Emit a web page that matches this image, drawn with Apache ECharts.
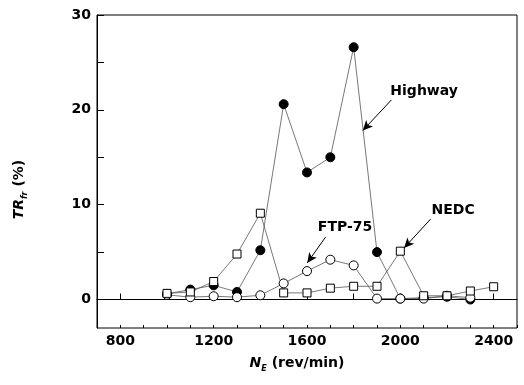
<!DOCTYPE html>
<html>
<head>
<meta charset="utf-8">
<script src="https://cdn.jsdelivr.net/npm/echarts@6/dist/echarts.min.js"></script>
<style>
  html, body { margin: 0; padding: 0; background: #fff; }
  #chart { width: 524px; height: 385px; }
</style>
</head>
<body>
<div id="chart"></div>
<script>
// engine speed (rev/min)
var rpm = [1000, 1100, 1200, 1300, 1400, 1500, 1600, 1700, 1800, 1900, 2000, 2100, 2200, 2300, 2400];
// TR_fr (%) per driving cycle
var highway = [0.6, 1.05, 1.5, 0.8, 5.2, 20.6, 13.4, 15.0, 26.6, 5.0, 0.1, 0.2, 0.3, 0.0, null];
var ftp75   = [0.5, 0.25, 0.35, 0.25, 0.45, 1.7, 3.0, 4.2, 3.6, 0.1, 0.1, 0.1, 0.4, 0.2, null];
var nedc    = [0.65, 0.8, 1.9, 4.8, 9.1, 0.7, 0.7, 1.2, 1.4, 1.4, 5.1, 0.4, 0.4, 0.9, 1.35];

var xLabels = [800, 1200, 1600, 2000, 2400];
var xTicks = [800, 1000, 1200, 1400, 1600, 1800, 2000, 2200, 2400];
var yLabels = [0, 10, 20, 30];
var yTicks = [0, 5, 10, 15, 20, 25, 30];

var font = 'DejaVu Sans';

function pairs(vals) {
  var out = [];
  for (var i = 0; i < rpm.length; i++) {
    if (vals[i] != null) out.push([rpm[i], vals[i]]);
  }
  return out;
}

function annot(text, x, y) {
  return {
    name: text, coord: [x, y], symbol: 'circle', symbolSize: 1,
    itemStyle: { color: 'rgba(0,0,0,0)', borderWidth: 0 },
    label: { show: true, formatter: text, position: 'inside', color: '#000',
             fontFamily: font, fontWeight: 'bold', fontSize: 14 }
  };
}

function plain(v) { return String(v); }

var lineStyle = { color: '#555', width: 0.8 };
var richSub = {
  i: { fontStyle: 'italic', fontFamily: font, fontWeight: 'bold', fontSize: 14, color: '#000' },
  s: { fontStyle: 'italic', fontFamily: font, fontWeight: 'bold', fontSize: 8, color: '#000', verticalAlign: 'bottom' }
};

var chart = echarts.init(document.getElementById('chart'));
chart.setOption({
  animation: false,
  grid: { left: 97, top: 15, right: 7, bottom: 57, show: true, borderColor: '#000', borderWidth: 1 },
  xAxis: [{
    type: 'value', min: 700, max: 2500,
    axisLine: { lineStyle: { color: '#000', width: 1 } },
    axisTick: { inside: true, length: 6, customValues: xTicks, lineStyle: { color: '#000' } },
    axisLabel: { customValues: xLabels, formatter: plain, color: '#000', fontFamily: font, fontWeight: 'bold', fontSize: 14, margin: 6 },
    splitLine: { show: false },
    name: '{i|N}{s|E} (rev/min)', nameLocation: 'middle', nameGap: 22,
    nameTextStyle: {
      color: '#000', fontFamily: font, fontWeight: 'bold', fontSize: 14, lineHeight: 20,
      padding: [0, 20, 0, 0], rich: richSub
    }
  }, {
    type: 'value', min: 700, max: 2500, interval: 100, position: 'bottom',
    axisLine: { show: false },
    axisTick: { inside: true, length: 3, lineStyle: { color: '#000' } },
    axisLabel: { show: false },
    splitLine: { show: false }
  }],
  yAxis: {
    type: 'value', min: -3, max: 30,
    axisLine: { show: true, lineStyle: { color: '#000', width: 1 } },
    axisTick: { show: true, inside: true, length: 7, customValues: yTicks, lineStyle: { color: '#000' } },
    axisLabel: { customValues: yLabels, formatter: plain, color: '#000', fontFamily: font, fontWeight: 'bold', fontSize: 14, margin: 6 },
    splitLine: { show: false },
    name: '{i|TR}{s|fr} (%)', nameLocation: 'middle', nameGap: 68, nameRotate: 90,
    nameTextStyle: {
      color: '#000', fontFamily: font, fontWeight: 'bold', fontSize: 14, lineHeight: 20,
      padding: [0, 36, 0, 0], rich: richSub
    }
  },
  series: [{
    name: 'Highway', type: 'line', data: pairs(highway),
    symbol: 'circle', symbolSize: 9,
    itemStyle: { color: '#000', borderColor: '#000', borderWidth: 1 },
    lineStyle: lineStyle,
    markLine: {
      silent: true, symbol: ['none', 'arrow'], symbolSize: [7, 10],
      label: { show: false },
      lineStyle: { color: '#000', width: 1, type: 'solid' },
      data: [
        [{ coord: [1962, 21.05] }, { coord: [1839, 17.82] }],
        [{ coord: [2130, 8.49] }, { coord: [2016, 5.44] }],
        [{ coord: [1680, 6.6] }, { coord: [1601, 3.86] }]
      ]
    },
    markPoint: {
      silent: true,
      data: [annot('Highway', 2102, 22.0), annot('NEDC', 2226, 9.37), annot('FTP-75', 1763, 7.58)]
    }
  }, {
    name: 'FTP-75', type: 'line', data: pairs(ftp75),
    symbol: 'circle', symbolSize: 9,
    itemStyle: { color: '#fff', borderColor: '#000', borderWidth: 1 },
    lineStyle: lineStyle
  }, {
    name: 'NEDC', type: 'line', data: pairs(nedc),
    symbol: 'rect', symbolSize: 8,
    itemStyle: { color: '#fff', borderColor: '#000', borderWidth: 1 },
    lineStyle: lineStyle
  }]
});
</script>
</body>
</html>
